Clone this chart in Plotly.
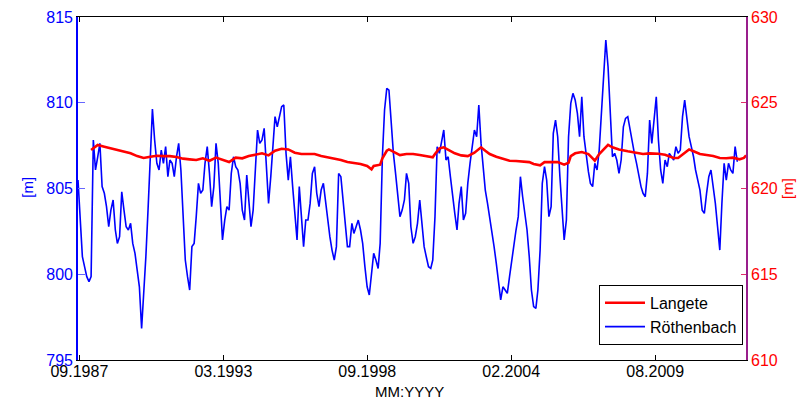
import pandas as pd
import plotly.graph_objects as go

# ---- data -------------------------------------------------------------
# Röthenbach groundwater level [m], monthly values starting 09.1987
roethenbach_start = "1987-09-01"
roethenbach_level = [
    805.49, 803.36, 801.02, 800.44, 799.86, 799.57, 799.86, 807.83, 806.08, 806.85,
    807.63, 805.11, 804.72, 803.94, 802.77, 803.74, 804.33, 802.58, 801.80, 802.19,
    804.81, 803.74, 802.77, 802.58, 802.97, 801.80, 801.22, 800.25, 799.27, 796.84,
    798.69, 801.02, 803.74, 806.47, 809.63, 807.83, 806.47, 806.08, 807.24, 806.47,
    807.44, 805.69, 806.66, 806.47, 805.69, 806.85, 807.63, 806.08, 802.97, 800.83,
    799.86, 799.08, 801.61, 801.80, 803.36, 805.30, 804.72, 804.91, 806.47, 807.44,
    805.88, 803.94, 805.11, 807.63, 806.47, 804.33, 802.00, 803.16, 803.94, 803.74,
    805.88, 806.85, 806.27, 806.08, 805.30, 803.74, 803.16, 805.78, 804.13, 802.77,
    803.74, 805.88, 808.41, 807.63, 807.83, 808.51, 806.08, 804.13, 805.69, 807.83,
    809.19, 808.60, 809.19, 809.77, 809.87, 807.05, 805.49, 806.85, 805.11, 803.36,
    802.00, 805.11, 803.36, 801.61, 803.16, 803.16, 804.13, 805.88, 806.27, 804.72,
    803.94, 804.91, 805.30, 804.13, 802.97, 802.19, 801.41, 800.83, 801.61, 805.88,
    805.69, 804.33, 803.16, 801.61, 801.61, 802.97, 802.38, 802.77, 803.16, 802.58,
    801.80, 800.44, 799.27, 798.79, 800.25, 801.22, 800.83, 800.34, 801.80, 806.85,
    809.58, 810.84, 810.74, 808.60, 807.05, 805.88, 804.72, 803.36, 803.74, 804.33,
    805.88, 805.30, 802.77, 801.80, 802.19, 802.97, 804.33, 802.77, 801.61, 801.02,
    800.44, 800.34, 800.83, 803.36, 807.44, 807.05, 807.83, 808.41, 806.66, 806.85,
    805.69, 804.52, 803.55, 802.58, 804.13, 805.11, 803.16, 803.55, 805.30, 806.47,
    807.63, 808.41, 808.02, 809.87, 807.63, 806.08, 804.91, 804.13, 803.36, 802.58,
    801.61, 800.64, 799.47, 798.50, 799.27, 799.08, 798.89, 799.86, 800.83, 801.80,
    802.58, 803.36, 805.69, 804.52, 803.36, 802.58, 801.02, 799.08, 798.11, 798.01,
    799.08, 801.41, 805.30, 806.27, 805.49, 803.36, 803.94, 808.21, 808.99, 808.02,
    805.69, 803.94, 802.00, 803.16, 808.02, 809.96, 810.55, 810.16, 809.38, 808.02,
    810.35, 808.02, 806.85, 805.98, 805.30, 805.11, 806.47, 806.08, 807.24, 809.38,
    811.91, 813.66, 812.10, 809.38, 806.85, 807.05, 806.66, 805.88, 806.66, 808.60,
    809.09, 809.19, 808.41, 807.83, 807.05, 806.47, 805.69, 805.11, 804.72, 804.52,
    805.88, 808.99, 807.63, 808.99, 810.35, 807.83, 806.08, 805.30, 806.66, 806.27,
    807.05, 806.85, 806.66, 807.44, 807.05, 807.24, 809.19, 810.16, 808.99, 808.02,
    807.44, 806.85, 806.08, 805.49, 804.91, 803.74, 803.55, 804.72, 805.69, 806.08,
    805.11, 804.13, 802.77, 801.41, 804.13, 806.47, 805.49, 806.47, 806.08, 805.88,
    807.44, 806.56,
]

# Langete river level [m]: month offset from 09.1987 and level
langete_month = [
    6, 9, 12, 15, 18, 21, 24, 27, 30, 33, 36, 39, 42, 45, 48, 51, 54, 57, 60, 63,
    66, 69, 72, 75, 78, 81, 84, 87, 90, 93, 96, 99, 102, 105, 108, 111, 114, 117,
    120, 123, 126, 129, 132, 134, 135, 138, 139, 141, 142, 144, 147, 150, 153, 156,
    160, 162, 163, 165, 167, 169, 172, 175, 178, 181, 184, 186, 188, 191, 194, 197,
    200, 203, 206, 208, 211, 213, 216, 219, 222, 224, 225, 227, 230, 233, 235, 236,
    238, 240, 242, 244, 247, 251, 255, 258, 261, 265, 268, 270, 272, 274, 276, 278,
    279, 281, 284, 287, 290, 293, 296, 299, 302, 304, 305,
]
langete_level = [
    622.24, 622.54, 622.44, 622.34, 622.24, 622.15, 622.05, 621.89, 621.78, 621.85,
    621.91, 621.89, 621.89, 621.84, 621.74, 621.70, 621.66, 621.76, 621.62, 621.80,
    621.66, 621.54, 621.80, 621.76, 621.89, 621.99, 622.05, 621.93, 622.20, 622.32,
    622.28, 622.09, 622.01, 622.01, 622.01, 621.89, 621.82, 621.74, 621.66, 621.54,
    621.47, 621.43, 621.31, 621.12, 621.31, 621.39, 621.76, 622.20, 622.28, 622.15,
    621.95, 622.01, 622.01, 621.95, 621.85, 621.82, 622.01, 622.34, 622.40, 622.24,
    622.05, 621.93, 621.89, 622.09, 622.40, 622.20, 622.01, 621.85, 621.74, 621.62,
    621.60, 621.58, 621.54, 621.43, 621.35, 621.54, 621.56, 621.54, 621.39, 621.50,
    621.89, 622.05, 622.13, 622.01, 621.76, 621.62, 622.01, 622.28, 622.54, 622.40,
    622.28, 622.17, 622.09, 622.01, 622.05, 622.03, 621.97, 621.89, 621.78, 621.78,
    621.97, 622.20, 622.28, 622.17, 622.01, 621.95, 621.89, 621.78, 621.76, 621.80,
    621.70, 621.78, 621.93,
]

x_tick_dates = ["1987-09-20", "1993-03-13", "1998-09-03", "2004-02-24", "2009-08-17"]
x_tick_labels = ["09.1987", "03.1993", "09.1998", "02.2004", "08.2009"]
left_ticks = [795, 800, 805, 810, 815]
right_ticks = [610, 615, 620, 625, 630]

# ---- figure -----------------------------------------------------------
start = pd.Timestamp(roethenbach_start)
blue_dates = pd.date_range(start, periods=len(roethenbach_level), freq="MS")
red_dates = [start + pd.DateOffset(months=m) for m in langete_month]

FONT = "Liberation Sans, Arial, Helvetica, sans-serif"
BLUE = "#0000FF"
RED = "#FF0000"

fig = go.Figure()
fig.add_trace(go.Scatter(
    x=blue_dates, y=roethenbach_level, mode="lines", name="Röthenbach",
    line=dict(color=BLUE, width=1.6), yaxis="y", legendrank=2,
))
fig.add_trace(go.Scatter(
    x=red_dates, y=langete_level, mode="lines", name="Langete",
    line=dict(color=RED, width=2.6), yaxis="y2", legendrank=1,
))

fig.update_layout(
    width=808, height=404, autosize=False,
    margin=dict(l=78, r=62, t=17, b=44, autoexpand=False),
    paper_bgcolor="white", plot_bgcolor="white",
    font=dict(family=FONT, size=16, color="black"),
    showlegend=True,
    legend=dict(
        x=0.9955, y=0.044, xanchor="right", yanchor="bottom",
        bgcolor="white", bordercolor="black", borderwidth=1,
        font=dict(family=FONT, size=16, color="black"),
        tracegroupgap=0, itemwidth=40,
    ),
    xaxis=dict(
        type="date", automargin=False,
        range=["1987-09-01", "2013-01-30"],
        tickvals=x_tick_dates, ticktext=x_tick_labels,
        ticks="inside", ticklen=5, tickcolor="black", tickwidth=1,
        ticklabelstandoff=-3,
        showline=True, linecolor="black", linewidth=1, mirror="ticks",
        showgrid=False, zeroline=False,
        tickfont=dict(family=FONT, size=16, color="black"),
    ),
    yaxis=dict(
        range=[795, 815], tickvals=left_ticks, automargin=False,
        ticks="inside", ticklen=7, tickcolor="#6666FF", tickwidth=1,
        showline=True, linecolor=BLUE, linewidth=1.6,
        showgrid=False, zeroline=False,
        tickfont=dict(family=FONT, size=16, color=BLUE),
    ),
    yaxis2=dict(
        range=[610, 630], tickvals=right_ticks, overlaying="y", side="right",
        automargin=False,
        ticks="inside", ticklen=5, tickcolor="#E0306A", tickwidth=1,
        showline=True, linecolor="#991E8C", linewidth=1.6,
        showgrid=False, zeroline=False,
        tickfont=dict(family=FONT, size=16, color=RED),
    ),
    annotations=[
        dict(text="[m]", xref="paper", yref="paper", x=-0.0749, y=0.505,
             showarrow=False, textangle=-90, font=dict(family=FONT, size=15, color=BLUE),
             xanchor="center", yanchor="middle"),
        dict(text="[m]", xref="paper", yref="paper", x=1.062, y=0.5,
             showarrow=False, textangle=-90, font=dict(family=FONT, size=15, color=RED),
             xanchor="center", yanchor="middle"),
        dict(text="MM:YYYY", xref="paper", yref="paper", x=0.497, y=-0.093,
             showarrow=False, font=dict(family=FONT, size=15, color="black"),
             xanchor="center", yanchor="middle"),
    ],
)

fig.write_html(
    "out.html",
    config={"displayModeBar": False},
    post_script="document.body.style.margin='0';document.body.style.overflow='hidden';",
)
